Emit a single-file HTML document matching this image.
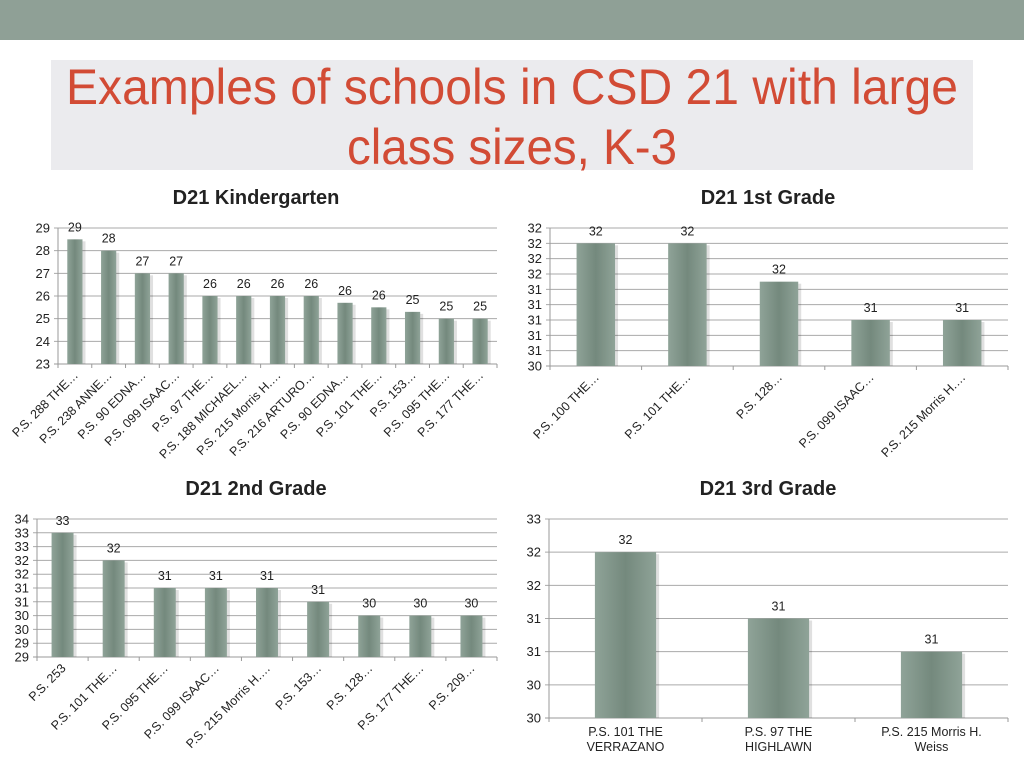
<!DOCTYPE html>
<html><head><meta charset="utf-8"><style>
html,body{margin:0;padding:0;background:#fff;width:1024px;height:768px;overflow:hidden}
svg text{font-family:"Liberation Sans",sans-serif}
</style></head><body>
<svg id="s" width="1024" height="768" viewBox="0 0 1024 768">
<defs>
<linearGradient id="bg" x1="0" x2="1" y1="0" y2="0">
<stop offset="0" stop-color="#8fa398"/><stop offset="0.5" stop-color="#74897d"/><stop offset="1" stop-color="#8fa398"/>
</linearGradient>
</defs>
<rect x="0" y="0" width="1024" height="40" fill="#8fa096"/>
<rect x="51" y="60" width="922" height="110" fill="#ebebee"/>
<text x="512" y="104" text-anchor="middle" font-size="50" fill="#d24b35" textLength="892" lengthAdjust="spacingAndGlyphs">Examples of schools in CSD 21 with large</text>
<text x="512" y="164" text-anchor="middle" font-size="50" fill="#d24b35" textLength="330" lengthAdjust="spacingAndGlyphs">class sizes, K-3</text>
</svg>
<script>
// Chart 1: Kindergarten
const kCats=["P.S. 288 THE…","P.S. 238 ANNE…","P.S. 90 EDNA…","P.S. 099 ISAAC…","P.S. 97 THE…","P.S. 188 MICHAEL…","P.S. 215 Morris H.…","P.S. 216 ARTURO…","P.S. 90 EDNA…","P.S. 101 THE…","P.S. 153…","P.S. 095 THE…","P.S. 177 THE…"];
const kVals=[28.5,28,27,27,26,26,26,26,25.7,25.5,25.3,25,25];
const kLabels=["29","28","27","27","26","26","26","26","26","26","25","25","25"];
const kTicks=[23,24,25,26,27,28,29];
const kTickLabels=["23","24","25","26","27","28","29"];
// Chart 2: 1st grade
const g1Cats=["P.S. 100 THE…","P.S. 101 THE…","P.S. 128…","P.S. 099 ISAAC…","P.S. 215 Morris H.…"];
const g1Vals=[32.1,32.1,31.6,31.1,31.1];
const g1Labels=["32","32","32","31","31"];
const g1Ticks=[30.5,30.7,30.9,31.1,31.3,31.5,31.7,31.9,32.1,32.3];
const g1TickLabels=["30","31","31","31","31","31","32","32","32","32"];
// Chart 3: 2nd grade
const g2Cats=["P.S. 253","P.S. 101 THE…","P.S. 095 THE…","P.S. 099 ISAAC…","P.S. 215 Morris H.…","P.S. 153…","P.S. 128…","P.S. 177 THE…","P.S. 209…"];
const g2Vals=[33.5,32.5,31.5,31.5,31.5,31,30.5,30.5,30.5];
const g2Labels=["33","32","31","31","31","31","30","30","30"];
const g2Ticks=[29,29.5,30,30.5,31,31.5,32,32.5,33,33.5,34];
const g2TickLabels=["29","29","30","30","31","31","32","32","33","33","34"];
// Chart 4: 3rd grade
const g3Cats=[["P.S. 101 THE","VERRAZANO"],["P.S. 97 THE","HIGHLAWN"],["P.S. 215 Morris H.","Weiss"]];
const g3Vals=[32.5,31.5,31];
const g3Labels=["32","31","31"];
const g3Ticks=[30,30.5,31,31.5,32,32.5,33];
const g3TickLabels=["30","30","31","31","32","32","33"];

const svg=document.getElementById('s');
const NS="http://www.w3.org/2000/svg";
function mk(tag,attrs,parent){const e=document.createElementNS(NS,tag);for(const k in attrs)e.setAttribute(k,attrs[k]);(parent||svg).appendChild(e);return e;}

function chart(o){
  const g=mk('g',{});
  
  
  const t=mk('text',{x:o.tx,y:o.ty,'text-anchor':'middle','font-size':20,'font-weight':'bold',fill:'#222'},g);
  t.textContent=o.title;
  
  
  const lo=o.ticks[0],hi=o.ticks[o.ticks.length-1];
  const y=v=>o.y1-(v-lo)/(hi-lo)*(o.y1-o.y0);
  const n=o.cats.length,cw=(o.x1-o.x0)/n;
  const xc=i=>o.x0+cw*(i+0.5);
  o.ticks.forEach((tv,i)=>{
    const l=mk('line',{x1:o.x0-4,x2:o.x1,y1:y(tv),y2:y(tv),stroke:i==0?'#999':'#aaa','stroke-width':1},g);
    
    
    const tl=mk('text',{x:o.x0-8,y:y(tv)+4.5,'text-anchor':'end','font-size':13,fill:'#222'},g);
    tl.textContent=o.tickLabels[i];
    
    
  });
  mk('line',{x1:o.x0,x2:o.x0,y1:o.y0,y2:o.y1,stroke:'#999'},g);
  for(let i=0;i<=n;i++){mk('line',{x1:o.x0+cw*i,x2:o.x0+cw*i,y1:o.y1,y2:o.y1+4,stroke:'#999'},g);}
  const bw=cw*o.bf;
  o.vals.forEach((v,i)=>{
    const top=y(v);
    mk('rect',{x:xc(i)-bw/2+3,y:top+2,width:bw,height:o.y1-top-2,fill:'#000',opacity:0.12},g);
    const b=mk('rect',{x:xc(i)-bw/2,y:top,width:bw,height:o.y1-top,fill:'url(#bg)'},g);
    
    
    const vl=mk('text',{x:xc(i),y:top-8,'text-anchor':'middle','font-size':12.5,fill:'#222'},g);
    vl.textContent=o.labels[i];
    
    
    const c=o.cats[i];
    if(Array.isArray(c)){
      c.forEach((line,k)=>{
        const xl=mk('text',{x:xc(i),y:o.y1+18+k*15,'text-anchor':'middle','font-size':12.5,fill:'#222'},g);
        xl.textContent=line;
        
        
      });
    }else{
      const px=xc(i)+4,py=o.y1+12;
      const xl=mk('text',{x:px,y:py,'text-anchor':'end','font-size':12.5,fill:'#222',transform:`rotate(-45 ${px} ${py})`},g);
      xl.textContent=c;
      
      
    }
  });
}
chart({name:'kindergarten-chart',title:'D21 Kindergarten',tx:256,ty:204,x0:58,x1:497,y0:228,y1:364,cats:kCats,vals:kVals,labels:kLabels,ticks:kTicks,tickLabels:kTickLabels,bf:0.45});
chart({name:'first-grade-chart',title:'D21 1st Grade',tx:768,ty:204,x0:550,x1:1008,y0:228,y1:366,cats:g1Cats,vals:g1Vals,labels:g1Labels,ticks:g1Ticks,tickLabels:g1TickLabels,bf:0.42});
chart({name:'second-grade-chart',title:'D21 2nd Grade',tx:256,ty:495,x0:37,x1:497,y0:519,y1:657,cats:g2Cats,vals:g2Vals,labels:g2Labels,ticks:g2Ticks,tickLabels:g2TickLabels,bf:0.43});
chart({name:'third-grade-chart',title:'D21 3rd Grade',tx:768,ty:495,x0:549,x1:1008,y0:519,y1:718,cats:g3Cats,vals:g3Vals,labels:g3Labels,ticks:g3Ticks,tickLabels:g3TickLabels,bf:0.4});
</script>
</body></html>
